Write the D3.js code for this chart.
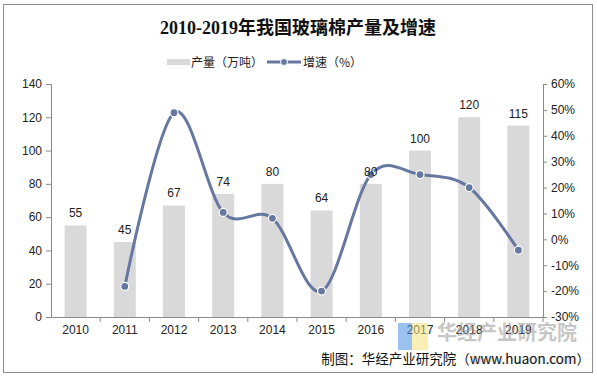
<!DOCTYPE html>
<html>
<head>
<meta charset="utf-8">
<script src="https://cdn.jsdelivr.net/npm/d3@7"></script>
<style>
  body { margin: 0; background: #fff; }
  svg { display: block; font-family: Arial, "Liberation Sans", "Noto Sans CJK SC", sans-serif; }
</style>
</head>
<body>
<svg width="597" height="379"></svg>
<script>
const years = ["2010", "2011", "2012", "2013", "2014", "2015", "2016", "2017", "2018", "2019"];
const output = [55, 45, 67, 74, 80, 64, 80, 100, 120, 115];
const growth = [null, -18.2, 48.9, 10.4, 8.1, -20.0, 25.0, 25.0, 20.0, -4.2];
const leftTicks = [0, 20, 40, 60, 80, 100, 120, 140];
const rightTicks = [-30, -20, -10, 0, 10, 20, 30, 40, 50, 60];

const svg = d3.select("svg");
const m = { left: 51, right: 543, top: 84, bottom: 317 };

// 外枠
svg.append("rect")
    .attr("x", 3.5).attr("y", 4.5).attr("width", 589).attr("height", 368)
    .attr("fill", "none").attr("stroke", "#8c8c8c");

// タイトル
svg.append("text")
    .attr("x", 298).attr("y", 34)
    .attr("text-anchor", "middle")
    .attr("font-family", "'Liberation Serif', 'DejaVu Serif', 'Noto Sans CJK SC', serif")
    .attr("font-weight", "bold")
    .attr("font-size", 18)
    .attr("fill", "#111")
    .text("2010-2019年我国玻璃棉产量及增速");

const x = d3.scaleBand().domain(years).range([m.left, m.right]);
const y = d3.scaleLinear().domain([0, 140]).range([m.bottom, m.top]);
const y2 = d3.scaleLinear().domain([-30, 60]).range([m.bottom, m.top]);
const barW = 22;

// 棒グラフ
svg.append("g").selectAll("rect")
  .data(output)
  .join("rect")
    .attr("x", (d, i) => x(years[i]) + x.bandwidth() / 2 - barW / 2)
    .attr("y", d => y(d))
    .attr("width", barW)
    .attr("height", d => y(0) - y(d))
    .attr("fill", "#d9d9d9");

// 軸
const axisColor = "#8a8a8a";
const gl = svg.append("g").attr("transform", `translate(${m.left},0)`)
    .call(d3.axisLeft(y).tickValues(leftTicks).tickSize(5).tickPadding(4));
const gr = svg.append("g").attr("transform", `translate(${m.right},0)`)
    .call(d3.axisRight(y2).tickValues(rightTicks).tickSize(4).tickPadding(4).tickFormat(d => d + "%"));
const gx = svg.append("g").attr("transform", `translate(0,${m.bottom})`)
    .call(d3.axisBottom(x).tickSize(0).tickPadding(8));
gx.selectAll(".tick").append("line")
    .attr("x1", x.bandwidth() / 2).attr("x2", x.bandwidth() / 2)
    .attr("y1", 0).attr("y2", 5);
[gl, gr, gx].forEach(g => {
  g.selectAll("path.domain").attr("stroke", axisColor);
  g.selectAll(".tick line").attr("stroke", axisColor);
  g.selectAll("text").attr("font-size", 12).attr("fill", "#222")
    .attr("font-family", "Arial, 'Liberation Sans', sans-serif");
});

// 折れ線（平滑）
const pts = growth.map((g, i) => ({ g, i })).filter(d => d.g !== null);
const line = d3.line()
    .x(d => x(years[d.i]) + x.bandwidth() / 2)
    .y(d => y2(d.g))
    .curve(d3.curveCardinal.tension(0));
svg.append("path")
    .datum(pts)
    .attr("d", line)
    .attr("fill", "none")
    .attr("stroke", "#6677a0")
    .attr("stroke-width", 3);
svg.append("g").selectAll("circle")
  .data(pts)
  .join("circle")
    .attr("cx", d => x(years[d.i]) + x.bandwidth() / 2)
    .attr("cy", d => y2(d.g))
    .attr("r", 4)
    .attr("fill", "#6677a0")
    .attr("stroke", "#fff")
    .attr("stroke-width", 1.2);

// データラベル
svg.append("g").selectAll("text")
  .data(output)
  .join("text")
    .attr("x", (d, i) => x(years[i]) + x.bandwidth() / 2)
    .attr("y", d => y(d) - 8)
    .attr("text-anchor", "middle")
    .attr("font-size", 12)
    .attr("fill", "#222")
    .text(d => d);

// 凡例
const lg = svg.append("g").attr("font-size", 12).attr("fill", "#222")
    .attr("font-family", "'Noto Sans CJK SC', sans-serif");
lg.append("rect").attr("x", 167).attr("y", 59).attr("width", 23).attr("height", 6).attr("fill", "#d9d9d9");
lg.append("text").attr("x", 191).attr("y", 67).text("产量（万吨）");
lg.append("line").attr("x1", 267).attr("x2", 301).attr("y1", 62).attr("y2", 62)
    .attr("stroke", "#6677a0").attr("stroke-width", 3);
lg.append("circle").attr("cx", 284).attr("cy", 62).attr("r", 3.5)
    .attr("fill", "#6677a0").attr("stroke", "#fff");
lg.append("text").attr("x", 303).attr("y", 67).text("增速（%）");

// 透かし
const wm = svg.append("g").attr("opacity", 0.55);
wm.append("rect").attr("x", 398).attr("y", 323).attr("width", 14).attr("height", 27).attr("fill", "#4a90e2");
wm.append("rect").attr("x", 412).attr("y", 323).attr("width", 16).attr("height", 27).attr("fill", "#f5e27a");
wm.append("text").attr("x", 437).attr("y", 340)
    .attr("font-family", "'Noto Sans CJK SC', sans-serif")
    .attr("font-size", 20).attr("font-weight", "bold").attr("fill", "#999")
    .text("华经产业研究院");
wm.append("text").attr("x", 472).attr("y", 364)
    .attr("font-size", 14).attr("fill", "#bbb")
    .text("www.huaon.com");

// 出典
svg.append("text")
    .attr("x", 590).attr("y", 364)
    .attr("text-anchor", "end")
    .attr("font-family", "'Noto Sans CJK SC', sans-serif")
    .attr("font-size", 13.5)
    .attr("fill", "#111")
    .text("制图：华经产业研究院（www.huaon.com）");
</script>
</body>
</html>
